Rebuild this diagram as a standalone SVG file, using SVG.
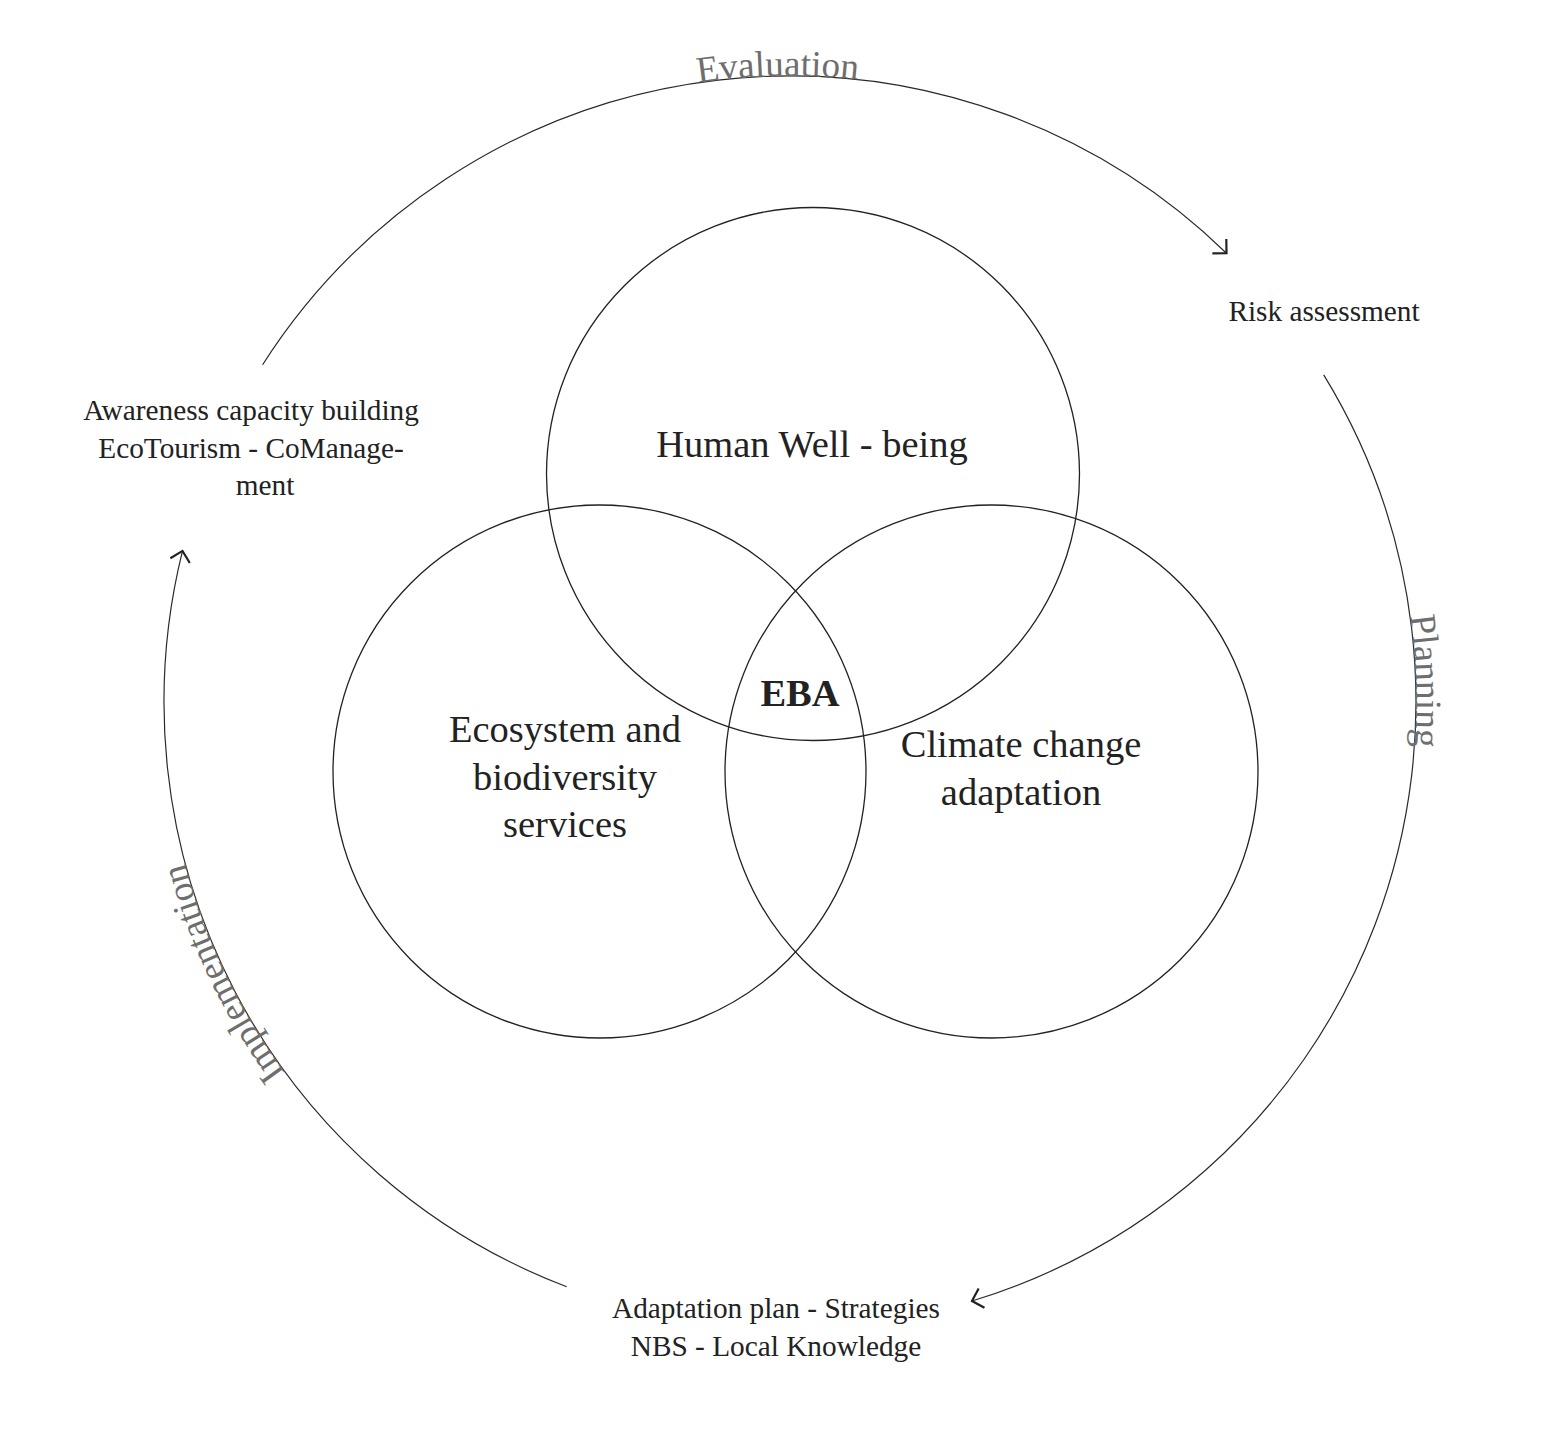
<svg xmlns="http://www.w3.org/2000/svg" width="1564" height="1444" viewBox="0 0 1564 1444">
<style>
.ring{fill:none;stroke:#222;stroke-width:1.3}
.arc{fill:none;stroke:#2a2a2a;stroke-width:1.2}
.lbl{font-family:"Liberation Serif",serif;fill:#222;text-anchor:middle}
.small{font-size:29.3px}
.big{font-size:38.5px}
.phase{font-family:"Liberation Serif",serif;font-size:37px;fill:#6e6e6e}
</style>
<defs>
<marker id="chev" markerUnits="userSpaceOnUse" markerWidth="30" markerHeight="30" viewBox="-15 -15 30 30" refX="0" refY="0" orient="auto">
<path d="M-10,-10 L0,0 L-10,10" fill="none" stroke="#222" stroke-width="2.2"/>
</marker>
<path id="pEval" d="M378.2,230.5 A626,626 0 0 1 1183.1,214.8"/>
<path id="pPlan" d="M1255.9,283.9 A626,626 0 0 1 1282.6,1088.2"/>
<path id="pImpl" d="M537,1274.6 A626,626 0 0 1 182.2,552.2"/>
</defs>
<rect width="1564" height="1444" fill="#fff"/>
<g id="connectors">
<path class="arc" d="M262.6,364.7 A626,626 0 0 1 1226.5,253.2" marker-end="url(#chev)"/>
<path class="arc" d="M1323.7,374.9 A626,626 0 0 1 972,1301" marker-end="url(#chev)"/>
<path class="arc" d="M566.7,1286.8 A626,626 0 0 1 182.5,550.9" marker-end="url(#chev)"/>
<text class="phase"><textPath href="#pEval" startOffset="50%" text-anchor="middle">Evaluation</textPath></text>
<text class="phase"><textPath href="#pPlan" startOffset="50%" text-anchor="middle">Planning</textPath></text>
<text class="phase" font-size="39.5"><textPath href="#pImpl" startOffset="50.7%" text-anchor="middle">Implementation</textPath></text>
</g>
<g id="human">
<circle class="ring" cx="813" cy="474" r="266.5"/>
<text class="lbl big" x="812" y="457">Human Well - being</text>
</g>
<g id="ecosystem">
<circle class="ring" cx="599.5" cy="771.5" r="266.5"/>
<text class="lbl big" x="565" y="742">Ecosystem and</text>
<text class="lbl big" x="565" y="790">biodiversity</text>
<text class="lbl big" x="565" y="837">services</text>
</g>
<g id="climate">
<circle class="ring" cx="991.5" cy="771.5" r="266.5"/>
<text class="lbl big" x="1021" y="757">Climate change</text>
<text class="lbl big" x="1021" y="805">adaptation</text>
</g>
<g id="eba">
<text class="lbl big" x="800" y="706" font-weight="bold">EBA</text>
</g>
<g id="risk">
<text class="lbl small" x="1324" y="321">Risk assessment</text>
</g>
<g id="awareness">
<text class="lbl small" x="251" y="420">Awareness capacity building</text>
<text class="lbl small" x="251" y="458">EcoTourism - CoManage-</text>
<text class="lbl small" x="265" y="495">ment</text>
</g>
<g id="adaptation">
<text class="lbl small" x="776" y="1318">Adaptation plan - Strategies</text>
<text class="lbl small" x="776" y="1356">NBS - Local Knowledge</text>
</g>
</svg>
